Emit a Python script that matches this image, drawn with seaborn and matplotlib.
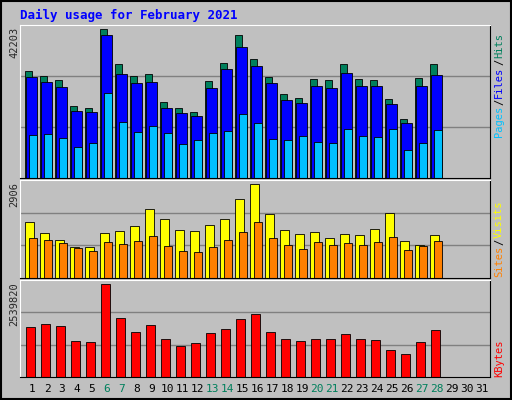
import numpy as np
import seaborn as sns
import matplotlib.pyplot as plt

days = np.arange(1, 29)
all_days = list(range(1, 32))
weekend = [6, 7, 13, 14, 20, 21, 27, 28]

hits = [29588, 28197, 27083, 19849, 19292, 40996, 31535, 28197, 28753, 20962, 19292, 18179, 26805, 31814,
        39326, 32927, 27918, 23188, 22075, 27361, 27083, 31535, 27361, 27083, 21796, 16231, 27640, 31535]
files = [27918, 26527, 25135, 18457, 18179, 39326, 28753, 26249, 26527, 19292, 17901, 17066, 24857, 30144,
         36265, 30979, 26249, 21518, 20683, 25414, 24857, 29031, 25414, 25414, 20405, 15118, 25414, 28474]
pages = [11779, 12058, 10945, 8440, 9553, 23466, 15397, 12614, 14284, 12336, 9275, 10388, 12336, 12892,
         17623, 15118, 10666, 10388, 11501, 9832, 9553, 13449, 11501, 11223, 13449, 7606, 9553, 13171]
visits = [1665, 1332, 1120, 908, 908, 1332, 1392, 1544, 2058, 1756, 1423, 1392, 1574, 1756,
          2331, 2785, 1907, 1423, 1302, 1362, 1181, 1302, 1271, 1453, 1937, 1090, 969, 1271]
sites = [1181, 1120, 1029, 878, 787, 1059, 999, 1090, 1241, 938, 787, 757, 908, 1120,
         1362, 1665, 1181, 969, 848, 1059, 969, 1029, 969, 1059, 1211, 817, 938, 1090]
kbytes = [1314000, 1394000, 1341000, 941000, 915000, 2433000, 1554000, 1181000, 1368000, 995000, 808000,
          888000, 1154000, 1261000, 1527000, 1661000, 1181000, 995000, 941000, 995000, 995000, 1128000,
          995000, 968000, 702000, 595000, 915000, 1234000]
max_hits, max_visits, max_kb = 42203, 2906, 2539820

sns.set_style("white")
plt.rcParams['font.family'] = ['DejaVu Sans Mono']

W, H = 512, 400
fig = plt.figure(figsize=(5.12, 4.0), dpi=100, facecolor="#C0C0C0")

def panel(top, bottom, ymax):
    ax = fig.add_axes([20 / W, 1 - bottom / H, 470 / W, (bottom - top) / H])
    ax.set_facecolor("#C0C0C0")
    ax.set_xlim(0.2, 31.53)
    ax.set_ylim(0, ymax * 1.0)
    for f in (1 / 3, 2 / 3):
        ax.axhline(ymax * f, color="#808080", lw=1, zorder=0)
    ax.set_xticks([]); ax.set_yticks([])
    for s in ax.spines.values():
        s.set_color("black"); s.set_linewidth(0.8)
    ax.spines['top'].set_color("white"); ax.spines['left'].set_color("white")
    fig.text(14 / W, 1 - (top + 2) / H, str(ymax), rotation=90,
             ha="center", va="top", fontsize=7.5)
    return ax

def bars(ax, left, right, vals, color):
    w = right - left
    ax.bar(days + left + w / 2, vals, width=w, color=color, edgecolor="black", linewidth=0.6)

ax1 = panel(25, 178, max_hits)
bars(ax1, -0.5, 0.03, hits, "#00805C")
bars(ax1, -0.37, 0.3, files, "#0000FF")
bars(ax1, -0.23, 0.3, pages, "#00C0FF")

ax2 = panel(180, 278, max_visits)
bars(ax2, -0.5, 0.1, visits, "#FFFF00")
bars(ax2, -0.23, 0.3, sites, "#FF8000")

ax3 = panel(280, 377, max_kb)
bars(ax3, -0.43, 0.23, kbytes, "#FF0000")

fig.text(20 / W, 1 - 15 / H, "Daily usage for February 2021", color="#0000FF",
         fontsize=9, fontweight="bold", va="center")

# right side legends, stacked bottom to top
renderer = fig.canvas.get_renderer()

def rlabel(y, parts):
    ypix = y
    for txt, col in parts:
        t = fig.text(499 / W, 1 - ypix / H, txt, color=col, rotation=90,
                     fontsize=7.5, ha="center", va="bottom")
        ypix -= t.get_window_extent(renderer).height + 1

rlabel(137, [("Pages", "#00C0FF"), ("/", "black"), ("Files", "#0000FF"), ("/", "black"), ("Hits", "#00805C")])
rlabel(277, [("Sites", "#FF8000"), ("/", "black"), ("Visits", "#FFFF00")])
rlabel(377, [("KBytes", "#FF0000")])

for d in all_days:
    x = 20 + (d - 0.2) * 470 / 31.33
    fig.text(x / W, 1 - 389 / H, str(d), fontsize=8, ha="center", va="center",
             color="#00805C" if d in weekend else "black")

# outer frame
fig.patches.append(plt.Rectangle((0.002, 0.002), 0.996, 0.996, transform=fig.transFigure,
                                 fill=False, edgecolor="black", lw=1.5))

fig.savefig("out.png", dpi=100, facecolor=fig.get_facecolor())
